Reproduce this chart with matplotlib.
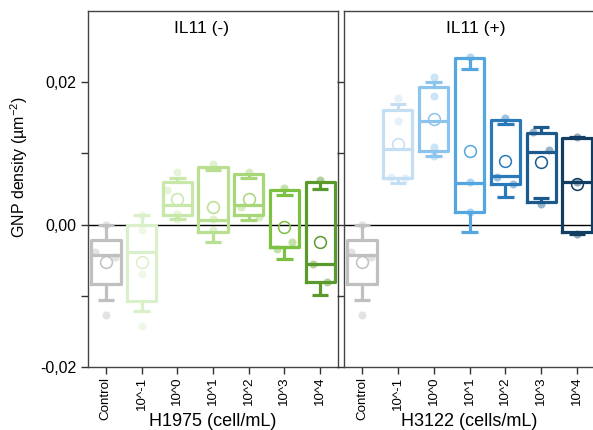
import matplotlib
matplotlib.use("Agg")
import matplotlib.pyplot as plt
from matplotlib.ticker import FuncFormatter, FixedLocator

plt.rcParams['font.family'] = ['Liberation Sans', 'DejaVu Sans']
plt.rcParams['mathtext.fontset'] = 'custom'
plt.rcParams['mathtext.rm'] = 'Liberation Sans'
plt.rcParams['mathtext.it'] = 'Liberation Sans:italic'

categories = ["Control", "10^-1", "10^0", "10^1", "10^2", "10^3", "10^4"]

# ---- IL11 (-) : H1975 ----
left_whislo = [-0.0106, -0.0122, 0.0008, -0.0024, 0.0007, -0.0048, -0.0099]
left_q1     = [-0.0084, -0.0108, 0.0013, -0.0011, 0.0013, -0.0032, -0.0081]
left_med    = [-0.0042, -0.0039, 0.0028, 0.0007, 0.0027, -0.0031, -0.0055]
left_q3     = [-0.0021, 0.0000, 0.0060, 0.0081, 0.0071, 0.0049, 0.0060]
left_whishi = [0.0000, 0.0014, 0.0066, 0.0076, 0.0066, 0.0042, 0.0050]
left_mean   = [-0.0053, -0.0053, 0.0036, 0.0025, 0.0036, -0.0003, -0.0025]
left_points = [
    [0.0000, -0.0038, -0.0045, -0.0127],
    [0.0014, -0.0008, -0.0070, -0.0143],
    [0.0074, 0.0049, 0.0015, 0.0008],
    [0.0085, 0.0008, -0.0008],
    [0.0074, 0.0025, 0.0011],
    [0.0052, -0.0025, -0.0034],
    [0.0063, -0.0055, -0.0080],
]
left_jitter = [
    [0.0, -0.3, 0.25, 0.0],
    [0.0, 0.0, 0.0, 0.0],
    [0.0, -0.3, 0.0, 0.0],
    [0.0, 0.0, 0.0],
    [0.0, -0.22, 0.3],
    [0.0, 0.22, -0.2],
    [0.0, -0.2, 0.2],
]
left_colors = ["#c0c0c0", "#daf0cb", "#c8e8aa", "#b8e090", "#a8d779", "#7cc142", "#5a992b"]

# ---- IL11 (+) : H3122 ----
right_whislo = [-0.0106, 0.0058, 0.0096, -0.0011, 0.0039, 0.0038, -0.0013]
right_q1     = [-0.0084, 0.0066, 0.0103, 0.0017, 0.0057, 0.0032, -0.0011]
right_med    = [-0.0042, 0.0106, 0.0145, 0.0059, 0.0068, 0.0102, 0.0060]
right_q3     = [-0.0021, 0.0161, 0.0193, 0.0234, 0.0147, 0.0129, 0.0122]
right_whishi = [0.0000, 0.0170, 0.0200, 0.0218, 0.0141, 0.0137, 0.0123]
right_mean   = [-0.0053, 0.0113, 0.0149, 0.0103, 0.0090, 0.0088, 0.0057]
right_points = [
    [0.0000, -0.0038, -0.0045, -0.0127],
    [0.0178, 0.0145, 0.0067, 0.0066],
    [0.0207, 0.0180, 0.0109, 0.0097],
    [0.0236, 0.0060, 0.0018],
    [0.0150, 0.0067, 0.0057],
    [0.0130, 0.0105, 0.0029],
    [0.0123, 0.0060, -0.0013],
]
right_jitter = [
    [0.0, -0.3, 0.25, 0.0],
    [0.0, 0.0, -0.2, 0.2],
    [0.0, 0.0, 0.0, 0.0],
    [0.0, 0.0, 0.0],
    [0.0, -0.22, 0.22],
    [-0.22, 0.22, 0.0],
    [0.0, 0.0, 0.0],
]
right_colors = ["#c0c0c0", "#c4def4", "#8cc4ec", "#53a6e0", "#2a7aba", "#1c5a8e", "#133e64"]

panel_titles = ["IL11 (-)", "IL11 (+)"]
x_titles = ["H1975 (cell/mL)", "H3122 (cells/mL)"]
y_title = r"GNP density (µm$^{-2}$)"

W, H = 593, 430
fig = plt.figure(figsize=(W / 100, H / 100), dpi=100)
ax_l = fig.add_axes([88 / W, 1 - 367 / H, 250 / W, 356 / H])
ax_r = fig.add_axes([344 / W, 1 - 367 / H, 251 / W, 356 / H])


def draw_panel(ax, whislo, q1, med, q3, whishi, mean, points, jitter, colors):
    positions = list(range(1, len(categories) + 1))
    stats = []
    for i in range(len(categories)):
        stats.append(dict(whislo=whislo[i], q1=q1[i], med=med[i], q3=q3[i],
                          whishi=whishi[i], fliers=[], label=categories[i]))
    for i, pts in enumerate(points):
        xs = [positions[i] + j for j in jitter[i]]
        ax.plot(xs, pts, 'o', ms=5.8, color=colors[i], alpha=0.45, mec='none', zorder=1)
    art = ax.bxp(stats, positions=positions, widths=0.82, capwidths=0.46,
                 showfliers=False, manage_ticks=False, patch_artist=False)
    for i in range(len(categories)):
        c = colors[i]
        for a in [art['boxes'][i], art['medians'][i]]:
            a.set_color(c); a.set_linewidth(2.3); a.set_zorder(3)
        for a in art['whiskers'][2 * i:2 * i + 2] + art['caps'][2 * i:2 * i + 2]:
            a.set_color(c); a.set_linewidth(2.3); a.set_zorder(3)
            a.set_solid_capstyle('butt')
    for i in range(len(categories)):
        ax.plot([positions[i]], [mean[i]], 'o', ms=8.5, mfc='none', mec=colors[i],
                mew=1.1, zorder=4)
    ax.axhline(0, color='black', lw=1.0, zorder=2)
    ax.set_xlim(0.5, 7.5)
    ax.set_ylim(-0.02, 0.03)
    ax.set_xticks(positions)
    ax.set_xticklabels(categories, rotation=90, fontsize=9.6)
    ax.tick_params(axis='x', direction='out', length=5, width=1, pad=2, colors='#333333',
                   labelcolor='black')
    for s in ax.spines.values():
        s.set_color('#444444')
        s.set_linewidth(1.0)


draw_panel(ax_l, left_whislo, left_q1, left_med, left_q3, left_whishi, left_mean,
           left_points, left_jitter, left_colors)
draw_panel(ax_r, right_whislo, right_q1, right_med, right_q3, right_whishi, right_mean,
           right_points, right_jitter, right_colors)

for ax in (ax_l, ax_r):
    ax.yaxis.set_major_locator(FixedLocator([-0.02, 0.0, 0.02]))
    ax.yaxis.set_minor_locator(FixedLocator([-0.01, 0.01]))
    ax.tick_params(axis='y', which='both', direction='out', length=5, width=1,
                   colors='#333333', labelcolor='black', labelsize=11.5)

ax_l.yaxis.set_major_formatter(FuncFormatter(lambda v, p: f"{v:.2f}".replace('.', ',')))
ax_r.tick_params(axis='y', which='both', labelleft=False)
ax_r.spines['right'].set_visible(False)

ax_l.text(3.69, 0.0275, panel_titles[0], ha='center', va='center', fontsize=12.5)
ax_r.text(4.18, 0.0275, panel_titles[1], ha='center', va='center', fontsize=12.5)

ax_l.set_xlabel(x_titles[0], fontsize=13)
ax_r.set_xlabel(x_titles[1], fontsize=13)
ax_l.xaxis.set_label_coords(0.5, -0.128)
ax_r.xaxis.set_label_coords(0.5, -0.128)
ax_l.set_ylabel(y_title, fontsize=11.5)
ax_l.yaxis.set_label_coords(-0.232, 0.563)

fig.savefig("out.png", dpi=100)
